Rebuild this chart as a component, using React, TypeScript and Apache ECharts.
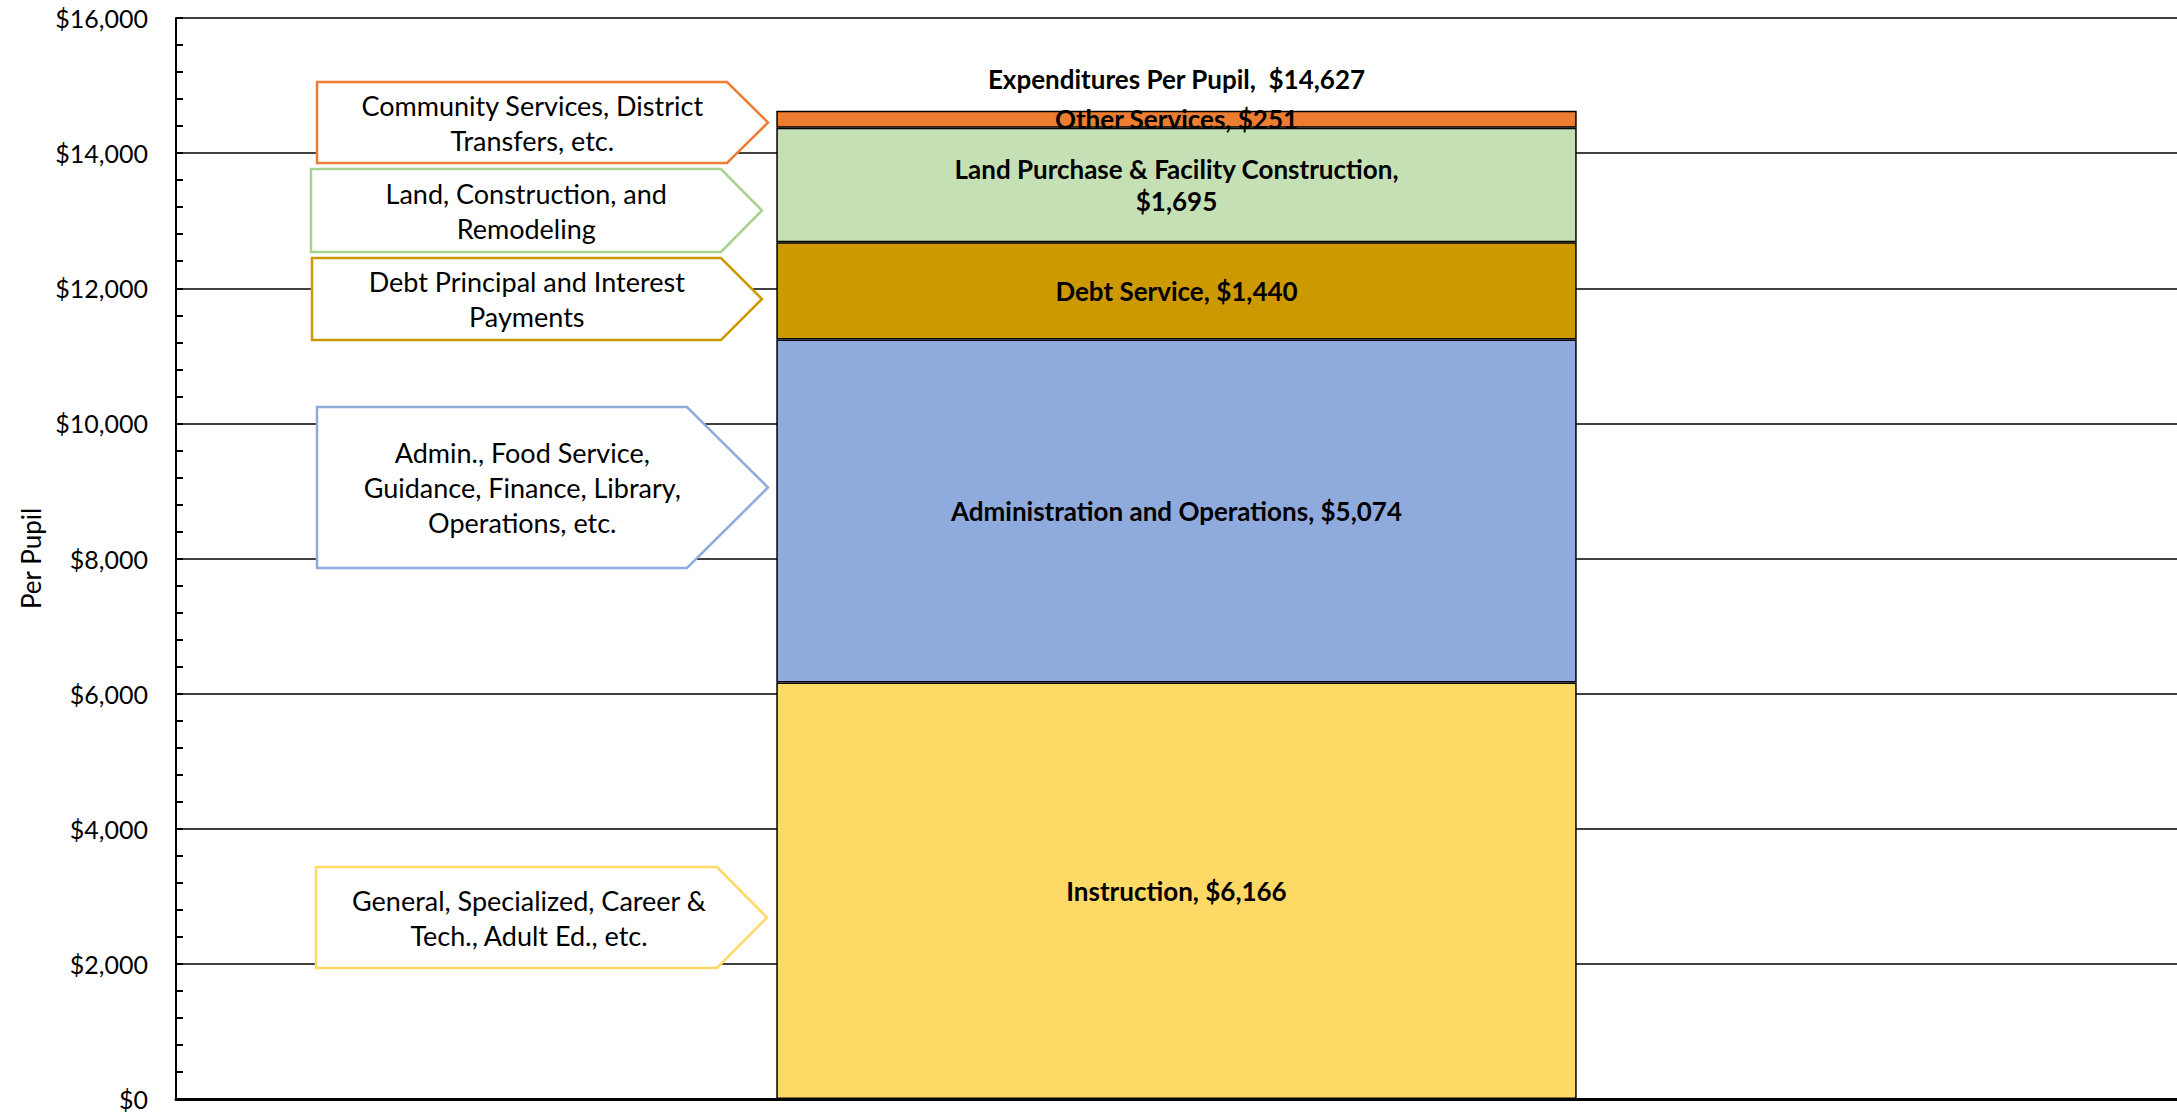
import React, { useEffect, useRef } from "react";
import * as echarts from "echarts";

// ---------- data ----------
const categories = ["Expenditures"];
const segmentNames = [
  "Instruction",
  "Administration and Operations",
  "Debt Service",
  "Land Purchase & Facility Construction",
  "Other Services",
];
const segmentValues = [6166, 5074, 1440, 1695, 251];
const totalName = "Expenditures Per Pupil";
const totalValue = 14627;
const yMin = 0;
const yMax = 16000;
const yInterval = 2000;
const yAxisName = "Per Pupil";
const calloutTexts = [
  "Community Services, District\nTransfers, etc.",
  "Land, Construction, and\nRemodeling",
  "Debt Principal and Interest\nPayments",
  "Admin., Food Service,\nGuidance, Finance, Library,\nOperations, etc.",
  "General, Specialized, Career &\nTech., Adult Ed., etc.",
];

// ---------- styles / layout ----------
const FONT = "Lato, 'Open Sans', sans-serif";
const segmentColors = ["#FFD966", "#8FAADC", "#CC9900", "#C5E0B4", "#ED7D31"];
const calloutColors = ["#ED7D31", "#A9D18E", "#CC9900", "#8FAADC", "#FFD966"];
// [left, top, bottom, arrowStartX, tipX]
const calloutGeom: number[][] = [
  [317, 82, 163, 727, 768],
  [311, 169, 252, 721, 762],
  [312, 258, 340, 721, 762],
  [317, 407, 568, 687, 768],
  [316, 867, 968, 717, 767],
];

const money = (v: number) => "$" + v.toLocaleString("en-US");

export default function App() {
  const ref = useRef<HTMLDivElement>(null);

  useEffect(() => {
    if (!ref.current) return;
    const chart = echarts.init(ref.current, null, { renderer: "svg" });

    const barSeries = segmentNames.map((name, i) => ({
      name,
      type: "bar",
      stack: "total",
      barWidth: "40%",
      data: [segmentValues[i]],
      itemStyle: {
        color: segmentColors[i],
        borderColor: "#000",
        borderWidth: 1.5,
      },
      label: {
        show: true,
        position: "inside",
        color: "#000",
        fontFamily: FONT,
        fontWeight: "bold",
        fontSize: 26,
        lineHeight: 32,
        formatter: (p: any) => {
          const base = p.seriesName + ",";
          const val = money(p.value);
          return (base + " " + val).length > 40 ? base + "\n" + val : base + " " + val;
        },
      },
      z: 2,
    }));

    const graphics: any[] = [];
    calloutTexts.forEach((txt, i) => {
      const [l, t, b, a, tip] = calloutGeom[i];
      const my = (t + b) / 2;
      graphics.push({
        type: "polygon",
        z: 100,
        shape: {
          points: [
            [l, t],
            [a, t],
            [tip, my],
            [a, b],
            [l, b],
          ],
        },
        style: { fill: "#fff", stroke: calloutColors[i], lineWidth: 2.5 },
      });
      graphics.push({
        type: "text",
        z: 101,
        x: (l + (a + tip) / 2) / 2,
        y: my,
        style: {
          text: txt,
          fill: "#000",
          font: `27px ${FONT}`,
          lineHeight: 35,
          align: "center",
          verticalAlign: "middle",
        },
      });
    });

    chart.setOption({
      animation: false,
      backgroundColor: "#fff",
      grid: { left: 176, right: 0, top: 18, bottom: 16, containLabel: false },
      xAxis: {
        type: "category",
        data: categories,
        axisLine: { show: true, lineStyle: { color: "#000", width: 3 } },
        axisTick: { show: false },
        axisLabel: { show: false },
      },
      yAxis: {
        type: "value",
        min: yMin,
        max: yMax,
        interval: yInterval,
        name: yAxisName,
        nameLocation: "middle",
        nameRotate: 90,
        nameGap: 126,
        nameTextStyle: { fontFamily: FONT, fontSize: 26, color: "#000" },
        axisLine: { show: true, lineStyle: { color: "#000", width: 2 } },
        axisTick: { show: true, inside: true, length: 7, lineStyle: { color: "#000", width: 2 } },
        minorTick: { show: true, splitNumber: 5, length: 7, lineStyle: { color: "#000", width: 2 } },
        splitLine: { show: true, lineStyle: { color: "#000", width: 1.5 } },
        axisLabel: {
          margin: 28,
          fontFamily: FONT,
          fontSize: 25,
          color: "#000",
          formatter: (v: number) => money(v),
        },
      },
      series: [
        ...barSeries,
        {
          name: totalName,
          type: "scatter",
          data: [totalValue],
          symbolSize: 0,
          itemStyle: { opacity: 1, color: "#000" },
          label: {
            show: true,
            position: "top",
            distance: 19,
            color: "#000",
            opacity: 1,
            fontFamily: FONT,
            fontWeight: "bold",
            fontSize: 26,
            formatter: (p: any) => p.seriesName + ",  " + money(p.value),
          },
          z: 5,
        },
      ],
      graphic: graphics,
    });

    return () => chart.dispose();
  }, []);

  return (
    <div
      ref={ref}
      style={{ position: "fixed", left: 0, top: 0, width: 2177, height: 1115, background: "#fff" }}
    />
  );
}
